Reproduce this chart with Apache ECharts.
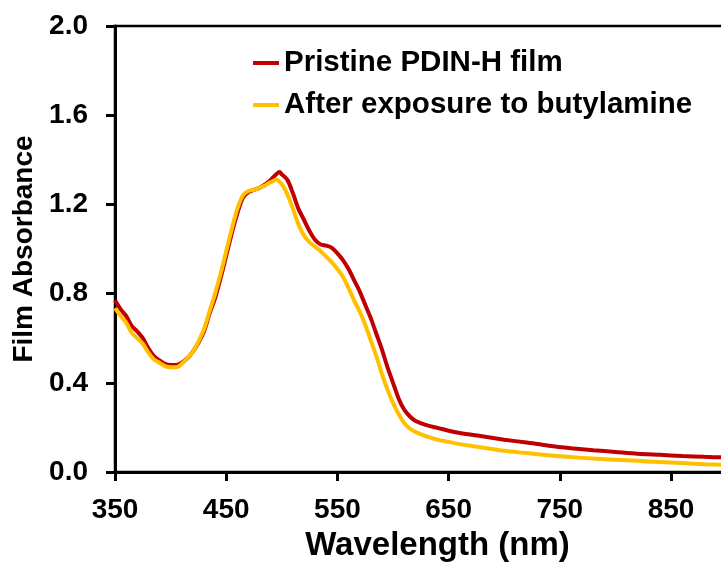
<!DOCTYPE html>
<html>
<head>
<meta charset="utf-8">
<title>Film Absorbance</title>
<script src="https://cdn.jsdelivr.net/npm/echarts@6/dist/echarts.min.js"></script>
<style>
html, body { margin: 0; padding: 0; background: #fff; }
#container { width: 721px; height: 565px; }
</style>
</head>
<body>
<div id="container"></div>
<script>
// wavelength (nm) and absorbance values
var redNm = [350,355,360,365,370,375,380,385,390,395,400,405,410,415,420,425,430,435,440,445,450,455,460,465,470,475,480,485,490,495,498,500,505,510,515,520,525,530,535,540,545,550,555,560,565,570,575,580,585,590,595,600,605,610,615,620,630,640,650,660,680,700,720,740,760,780,800,820,840,860,880,900];
var redAbs = [0.77,0.73,0.70,0.655,0.63,0.60,0.555,0.52,0.50,0.485,0.48,0.48,0.49,0.51,0.54,0.58,0.63,0.71,0.78,0.87,0.97,1.07,1.16,1.23,1.255,1.265,1.275,1.29,1.31,1.335,1.345,1.335,1.31,1.25,1.18,1.13,1.08,1.04,1.02,1.015,1.005,0.98,0.95,0.91,0.86,0.81,0.75,0.69,0.62,0.55,0.47,0.40,0.33,0.28,0.25,0.23,0.21,0.198,0.185,0.175,0.16,0.145,0.132,0.118,0.107,0.098,0.09,0.082,0.077,0.072,0.068,0.065];

var yelNm = [350,355,360,365,370,375,380,385,390,395,400,405,410,415,420,425,430,435,440,445,450,455,460,465,470,475,480,485,490,495,500,505,510,515,520,525,530,535,540,545,550,555,560,565,570,575,580,585,590,595,600,605,610,615,620,630,640,650,660,680,700,720,740,760,780,800,820,840,860,880,900];
var yelAbs = [0.735,0.70,0.67,0.625,0.60,0.575,0.535,0.505,0.49,0.475,0.47,0.47,0.485,0.51,0.54,0.585,0.64,0.72,0.80,0.89,0.99,1.09,1.18,1.24,1.26,1.265,1.275,1.285,1.30,1.31,1.29,1.245,1.18,1.11,1.06,1.03,1.01,0.99,0.965,0.94,0.91,0.875,0.825,0.77,0.72,0.66,0.59,0.52,0.44,0.37,0.31,0.26,0.22,0.195,0.18,0.16,0.145,0.135,0.125,0.11,0.095,0.085,0.075,0.067,0.06,0.055,0.05,0.045,0.04,0.035,0.032];

var seriesNames = ['Pristine PDIN-H film', 'After exposure to butylamine'];
var seriesColors = ['#C00000', '#FFC000'];

function pairs(xs, ys) {
  var out = [];
  for (var i = 0; i < xs.length; i++) out.push([xs[i], ys[i]]);
  return out;
}

var font = 'Liberation Sans, Arial, sans-serif';
var chart = echarts.init(document.getElementById('container'));

var option = {
  animation: false,
  backgroundColor: '#fff',
  grid: {
    left: 115, top: 26, width: 645, height: 446,
    outerBoundsMode: 'none',
    show: true, borderColor: '#000', borderWidth: 2.5, backgroundColor: 'transparent'
  },
  legend: {
    left: 248, top: 43, orient: 'vertical',
    itemWidth: 26, itemHeight: 4, itemGap: 12,
    icon: 'rect',
    data: seriesNames,
    textStyle: { fontFamily: font, fontWeight: 'bold', fontSize: 29.5, color: '#000', lineHeight: 30 }
  },
  xAxis: {
    type: 'value', min: 350, max: 930, interval: 100,
    name: 'Wavelength (nm)', nameLocation: 'middle', nameGap: 57,
    nameTextStyle: { fontFamily: font, fontWeight: 'bold', fontSize: 33, color: '#000' },
    axisLine: { lineStyle: { color: '#000', width: 3 } },
    axisTick: { length: 9, lineStyle: { color: '#000', width: 3 } },
    axisLabel: { margin: 24, fontFamily: font, fontWeight: 'bold', fontSize: 28, color: '#000',
                 showMaxLabel: false },
    splitLine: { show: false }
  },
  yAxis: {
    type: 'value', min: 0, max: 2, interval: 0.4,
    name: 'Film Absorbance', nameLocation: 'middle', nameGap: 76,
    nameTextStyle: { fontFamily: font, fontWeight: 'bold', fontSize: 28, color: '#000' },
    axisLine: { show: true, lineStyle: { color: '#000', width: 3 } },
    axisTick: { show: true, length: 9, lineStyle: { color: '#000', width: 3 } },
    axisLabel: { margin: 27, fontFamily: font, fontWeight: 'bold', fontSize: 28, color: '#000',
                 formatter: function (v) { return v.toFixed(1); } },
    splitLine: { show: false }
  },
  series: [
    {
      name: seriesNames[0], type: 'line', data: pairs(redNm, redAbs),
      smooth: 0.3, showSymbol: false, symbol: 'none',
      lineStyle: { color: seriesColors[0], width: 4 }, itemStyle: { color: seriesColors[0] }
    },
    {
      name: seriesNames[1], type: 'line', data: pairs(yelNm, yelAbs),
      smooth: 0.3, showSymbol: false, symbol: 'none',
      lineStyle: { color: seriesColors[1], width: 4 }, itemStyle: { color: seriesColors[1] }
    }
  ]
};
chart.setOption(option);
</script>
</body>
</html>
